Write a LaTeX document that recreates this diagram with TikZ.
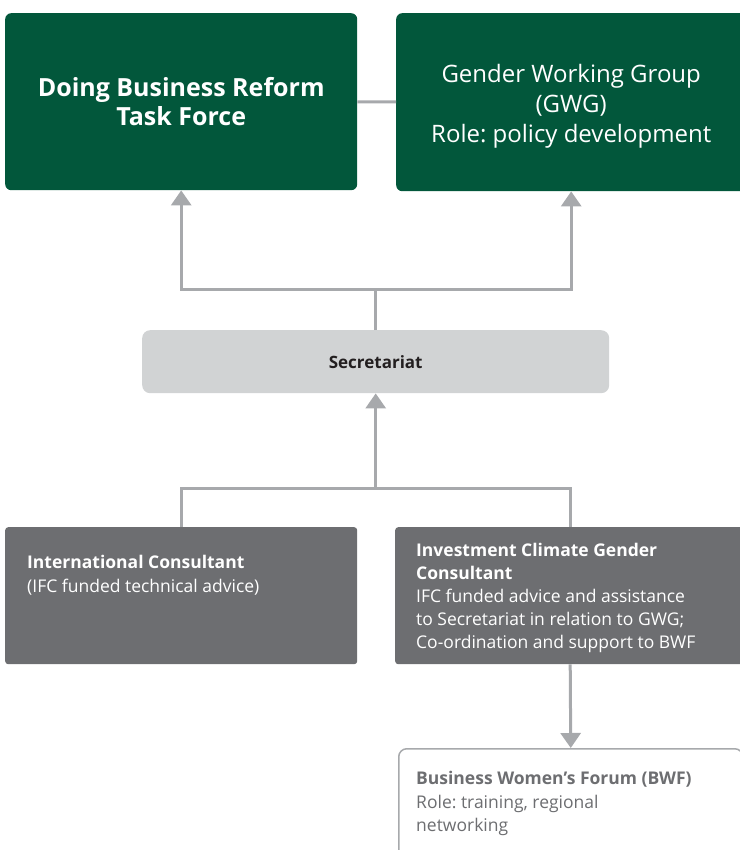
\documentclass[tikz,border=0pt]{standalone}
\usepackage{fontspec}
\setmainfont{Open Sans}
\frenchspacing
\usetikzlibrary{arrows.meta}
\definecolor{taskgreen}{HTML}{02573B}
\definecolor{darkgrey}{HTML}{6D6E71}
\definecolor{palegrey}{HTML}{D1D3D4}
\definecolor{linegrey}{HTML}{A7A9AC}
\definecolor{inkgrey}{HTML}{231F20}
\tikzset{
  >={Triangle[width=20pt,length=15pt]}, % filled grey arrow heads
  link/.style={draw=linegrey, line width=3pt}, % all connectors
  greenbox/.style={rectangle, fill=taskgreen, rounded corners=6pt, anchor=north west, text=white, align=center}, % top level bodies
  greybox/.style={rectangle, fill=darkgrey, rounded corners=3pt, anchor=north west}, % consultants
  secbox/.style={rectangle, fill=palegrey, rounded corners=8pt, anchor=north west, text=inkgrey}, % secretariat
  forumbox/.style={rectangle, draw=linegrey, line width=1.5pt, fill=white, rounded corners=8pt, anchor=north west}, % forum
  boxtext/.style={anchor=north west, inner sep=0pt, align=left, font=\fontsize{17.5}{23.5}\selectfont}, % left aligned box text
}
\begin{document}
\begin{tikzpicture}[x=1pt, y=-1pt]
    \useasboundingbox (0,0) rectangle (739,850);
    % top row
    \node[greenbox, minimum width=352, minimum height=177, font=\fontsize{25}{29}\selectfont\bfseries] (db) at (5,13)
        {Doing Business Reform\\Task Force};
    \node[greenbox, minimum width=350, minimum height=178] (gwg) at (396,13) {};
    \node[text=white, align=center, font=\fontsize{24}{30}\selectfont] (gwgtext) at ([yshift=-4pt]gwg.center)
        {Gender Working Group\\(GWG)\\Role: policy development};
    \draw[link] (db) -- (gwg);
    % secretariat
    \node[secbox, minimum width=467, minimum height=63, font=\fontsize{17}{20}\selectfont\bfseries] (sec) at (142,330)
        {Secretariat};
    \coordinate (upfork) at (sec.north |- 0,289);
    \draw[link] (sec.north) -- (upfork);
    \draw[link, ->] (upfork) -| (db.south);
    \draw[link, ->] (upfork) -| (gwg.south);
    % consultants
    \node[greybox, minimum width=352, minimum height=137] (ic) at (5,527) {};
    \node[boxtext, text=white] (ictext) at (27,555)
        {\textbf{International Consultant}\\(IFC funded technical advice)};
    \node[greybox, minimum width=350, minimum height=137] (icg) at (395,527) {};
    \node[boxtext, text=white, font=\fontsize{17.5}{23}\selectfont] (icgtext) at (416,543)
        {\textbf{Investment Climate Gender}\\\textbf{Consultant}\\IFC funded advice and assistance\\to Secretariat in relation to GWG;\\Co-ordination and support to BWF};
    \coordinate (lowfork) at (sec.south |- 0,488);
    \draw[link, ->] (lowfork) -- (sec.south);
    \draw[link] (lowfork) -| (ic.north);
    \draw[link] (lowfork) -| (icg.north);
    % forum
    \node[forumbox, minimum width=344, minimum height=120] (bwf) at (398,748) {};
    \node[boxtext, text=darkgrey] (bwftext) at (416,771)
        {\textbf{Business Women’s Forum (BWF)}\\Role: training, regional\\networking};
    \draw[link, ->] (icg.south) -- (bwf.north);
\end{tikzpicture}
\end{document}
